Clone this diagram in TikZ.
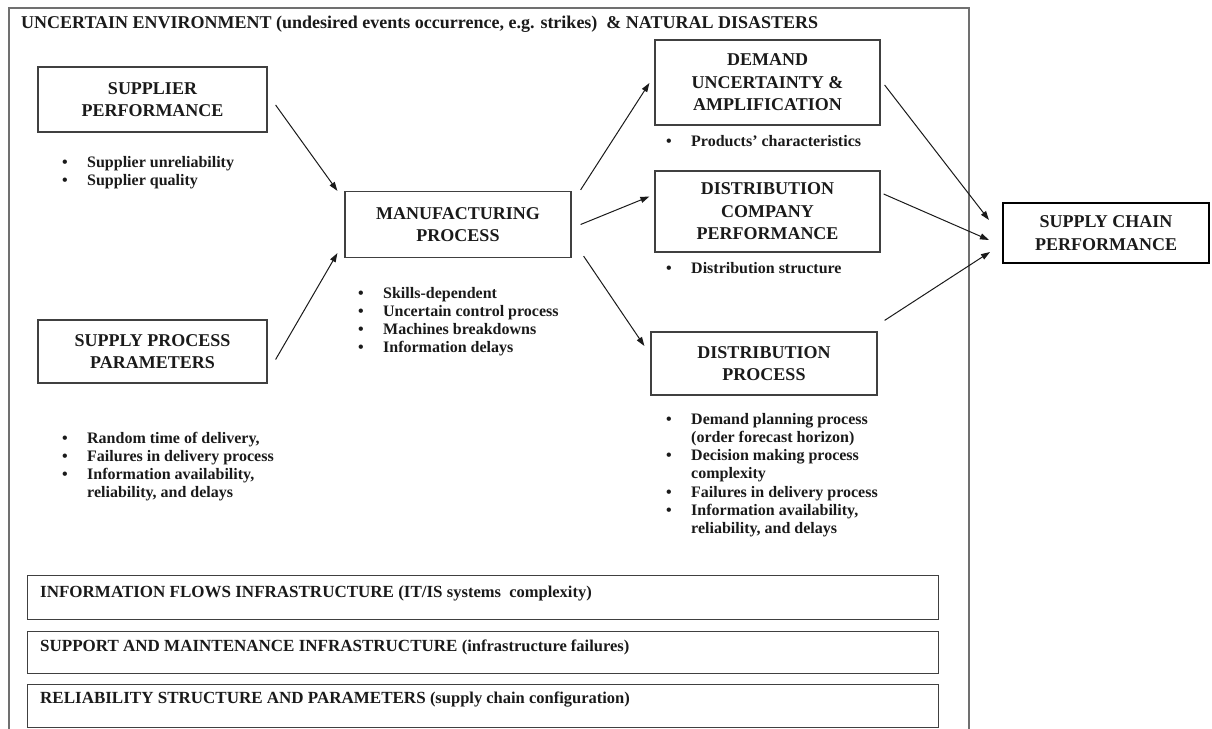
\documentclass[tikz,border=0pt]{standalone}
\usepackage{fontspec}
\setmainfont{Liberation Serif}
\usetikzlibrary{calc,arrows.meta}

\definecolor{framegray}{HTML}{707070}
\definecolor{boxgray}{HTML}{404040}
\definecolor{inkgray}{HTML}{1A1A1A}

% bullet line and its continuation line
\newcommand\bitem[1]{\makebox[25pt][l]{\textbullet}#1}
\newcommand\bcont[1]{\hspace*{25pt}#1}
% smaller type for the remarks in brackets on the layer bars
\newcommand\layernote[1]{{\fontsize{16.5}{19}\selectfont #1}}

\tikzset{
  every node/.style={text=inkgray},
  envframe/.style={draw=framegray, line width=1.5pt, rectangle, inner sep=0pt, anchor=north west},
  stagebox/.style={draw=boxgray, line width=1.2pt, rectangle, inner sep=0pt, align=center,
    font=\fontsize{18}{22.5}\selectfont\bfseries},
  goalbox/.style={stagebox, draw=black, line width=2pt},
  layerbox/.style={draw=boxgray, line width=1.3pt, rectangle, inner sep=0pt, anchor=north west,
    minimum width=911pt},
  layertext/.style={anchor=base west, inner sep=0pt, font=\fontsize{17}{20}\selectfont\bfseries},
  titletext/.style={anchor=base west, inner sep=0pt, font=\fontsize{18}{21}\selectfont\bfseries},
  % lists are placed by the baseline of their last line
  blist/.style={anchor=base west, inner sep=0pt, align=left,
    font=\fontsize{16}{18.3}\selectfont\bfseries},
  flow/.style={draw=inkgray, line width=1pt, -{Triangle[length=9pt,width=6pt]}},
}

\begin{document}
\begin{tikzpicture}[x=1pt, y=-1pt]
\useasboundingbox (0,0) rectangle (1212,728);

% uncertain environment frame (open at the bottom of the page)
\node[envframe, minimum width=960pt, minimum height=740pt] (env) at (8,7) {};
\node[titletext] (envtitle) at (21,28)
  {UNCERTAIN ENVIRONMENT (undesired events occurrence, e.g. strikes)\ \ \& NATURAL DISASTERS};

% stages of the chain
\node[stagebox, minimum width=229pt, minimum height=65pt] (sup) at (152.5,99.5)
  {SUPPLIER\\PERFORMANCE};
\node[stagebox, minimum width=229pt, minimum height=63pt] (spp) at (152.5,351.5)
  {SUPPLY PROCESS\\PARAMETERS};
\node[stagebox, minimum width=226pt, minimum height=66pt] (man) at (458,224.5)
  {MANUFACTURING\\PROCESS};
\node[stagebox, minimum width=225pt, minimum height=85pt] (dem) at (767.5,82.5)
  {DEMAND\\UNCERTAINTY \&\\AMPLIFICATION};
\node[stagebox, minimum width=225pt, minimum height=81pt] (dc) at (767.5,211.5)
  {DISTRIBUTION\\COMPANY\\PERFORMANCE};
\node[stagebox, minimum width=226pt, minimum height=63pt] (dp) at (764,363.5)
  {DISTRIBUTION\\PROCESS};
\node[goalbox, minimum width=206pt, minimum height=60pt] (sc) at (1106,233)
  {SUPPLY CHAIN\\PERFORMANCE};

% uncertainty sources of each stage
\node[blist] (supl) at (62,185.5)
  {\bitem{Supplier unreliability}\\\bitem{Supplier quality}};
\node[blist] (sppl) at (62,497.9)
  {\bitem{Random time of delivery,}\\\bitem{Failures in delivery process}\\
   \bitem{Information availability,}\\\bcont{reliability, and delays}};
\node[blist] (manl) at (358,352.9)
  {\bitem{Skills-dependent}\\\bitem{Uncertain control process}\\
   \bitem{Machines breakdowns}\\\bitem{Information delays}};
\node[blist] (deml) at (666,146)
  {\bitem{Products’ characteristics}};
\node[blist] (dcl) at (666,273)
  {\bitem{Distribution structure}};
\node[blist] (dpl) at (666,533.8)
  {\bitem{Demand planning process}\\\bcont{(order forecast horizon)}\\
   \bitem{Decision making process}\\\bcont{complexity}\\
   \bitem{Failures in delivery process}\\\bitem{Information availability,}\\
   \bcont{reliability, and delays}};

% flows between the stages
\draw[flow] ($(sup.east)+(8,5.5)$) -- ($(man.north west)+(-7,0)$);
\draw[flow] ($(spp.east)+(8,8)$) -- ($(man.south west)+(-7,-5)$);
\draw[flow] ($(man.north east)+(9,-1)$) -- ($(dem.west)+(-5,0.5)$);
\draw[flow] ($(man.east)+(9,0)$) -- ($(dc.west)+(-5,-15)$);
\draw[flow] ($(man.south east)+(12,-2)$) -- ($(dp.west)+(-6,-17.5)$);
\draw[flow] ($(dem.east)+(4,2.5)$) -- ($(sc.west)+(-13,-13)$);
\draw[flow] ($(dc.east)+(3,-17.5)$) -- ($(sc.west)+(-13,7)$);
\draw[flow] ($(dp.north east)+(7,-11)$) -- ($(sc.west)+(-12,19)$);

% supporting infrastructure layers
\node[layerbox, minimum height=44pt] (info) at (27,575) {};
\node[layertext] (infot) at ($(info.north west)+(13,22)$)
  {INFORMATION FLOWS INFRASTRUCTURE (IT/IS \layernote{systems\ \ complexity)}};
\node[layerbox, minimum height=42pt] (supp) at (27,631) {};
\node[layertext] (suppt) at ($(supp.north west)+(13,20)$)
  {SUPPORT AND MAINTENANCE INFRASTRUCTURE \layernote{(infrastructure failures)}};
\node[layerbox, minimum height=43pt] (rel) at (27,684) {};
\node[layertext] (relt) at ($(rel.north west)+(13,19)$)
  {RELIABILITY STRUCTURE AND PARAMETERS \layernote{(supply chain configuration)}};
\end{tikzpicture}
\end{document}
